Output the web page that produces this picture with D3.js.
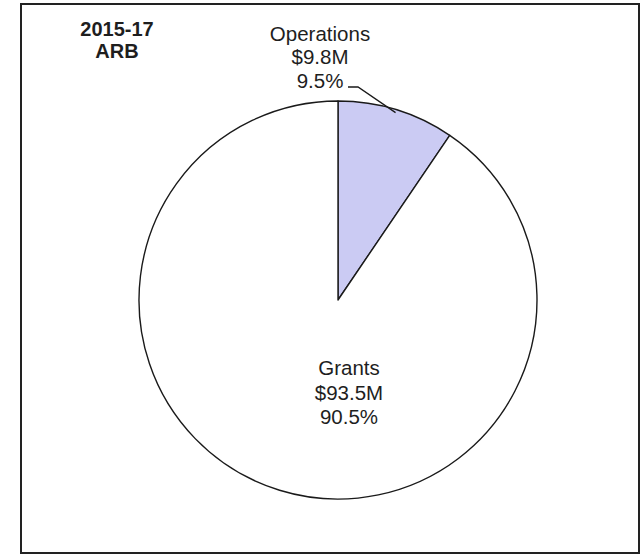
<!DOCTYPE html>
<html>
<head>
<meta charset="utf-8">
<script src="https://cdn.jsdelivr.net/npm/d3@7"></script>
<style>
  html, body { margin: 0; padding: 0; background: #fff; }
  svg { display: block; }
  text { font-family: "Liberation Sans", Arial, sans-serif; fill: #1e1e1e; }
</style>
</head>
<body>
<svg id="chart" width="644" height="558"></svg>
<script>
// Budget split, 2015-17 ARB ($ millions)
const categories = ["Operations", "Grants"];
const amounts = [9.8, 93.5];
const amountLabels = ["$9.8M", "$93.5M"];
const percentLabels = ["9.5%", "90.5%"];
const titleLines = ["2015-17", "ARB"];
const sliceColors = ["#cbcbf3", "#ffffff"];

const svg = d3.select("#chart");
const cx = 338, cy = 300, radius = 199;

// outer frame
svg.append("rect")
  .attr("x", 21).attr("y", 4)
  .attr("width", 618).attr("height", 549)
  .attr("fill", "none")
  .attr("stroke", "#222")
  .attr("stroke-width", 2);

// title
svg.append("text")
  .attr("x", 117).attr("y", 36)
  .attr("text-anchor", "middle")
  .attr("font-size", 20).attr("font-weight", "bold")
  .selectAll("tspan").data(titleLines).join("tspan")
  .attr("x", 117).attr("dy", (d, i) => i === 0 ? 0 : 22)
  .text(d => d);

const data = categories.map((c, i) => ({
  name: c, value: amounts[i], amount: amountLabels[i], pct: percentLabels[i]
}));

const pie = d3.pie().value(d => d.value).sort(null);
const arcs = pie(data);
const arc = d3.arc().innerRadius(0).outerRadius(radius);

const g = svg.append("g").attr("transform", `translate(${cx},${cy})`);

g.selectAll("path.slice").data(arcs).join("path")
  .attr("class", "slice")
  .attr("d", arc)
  .attr("fill", (d, i) => sliceColors[i])
  .attr("stroke", "#1a1a1a")
  .attr("stroke-width", 1.4)
  .attr("stroke-linejoin", "round");

// Operations label sits above the pie with a leader line
const ops = arcs[0];
const edgeArc = d3.arc().innerRadius(radius * 0.985).outerRadius(radius * 0.985);
const [ex, ey] = edgeArc.centroid(ops);
const labelX = 320 - cx, labelBase = 40.5 - cy;

g.append("text")
  .attr("text-anchor", "middle")
  .attr("font-size", 20.5)
  .selectAll("tspan").data([ops.data.name, ops.data.amount, ops.data.pct]).join("tspan")
  .attr("x", labelX)
  .attr("y", (d, i) => labelBase + i * 23.7)
  .text(d => d);

g.append("path")
  .attr("d", d3.line()([[348 - cx, 87 - cy], [358 - cx, 87 - cy], [ex, ey]]))
  .attr("fill", "none")
  .attr("stroke", "#1a1a1a")
  .attr("stroke-width", 1.3);

// Grants label inside its slice
const grants = arcs[1];
g.append("text")
  .attr("text-anchor", "middle")
  .attr("font-size", 20.5)
  .selectAll("tspan").data([grants.data.name, grants.data.amount, grants.data.pct]).join("tspan")
  .attr("x", 349 - cx)
  .attr("y", (d, i) => 375 - cy + i * 24.5)
  .text(d => d);
</script>
</body>
</html>
